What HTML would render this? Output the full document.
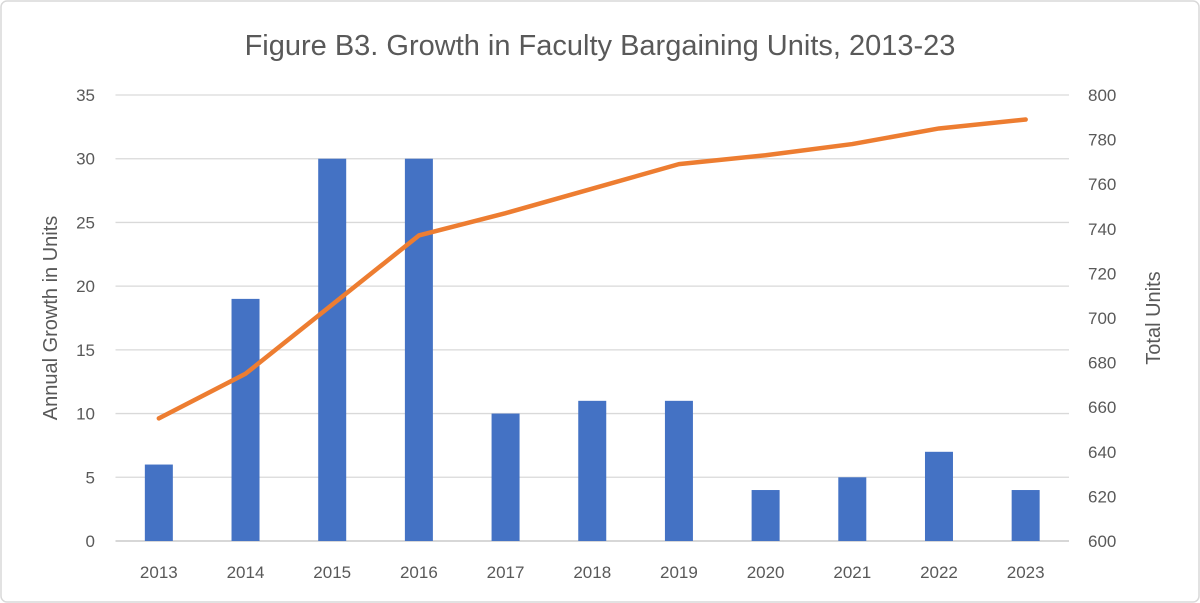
<!DOCTYPE html>
<html><head><meta charset="utf-8"><style>
body{margin:0;background:#fff;}
svg{display:block;font-family:"Liberation Sans",sans-serif;}
</style></head><body>
<svg id="chart" width="1200" height="603">
<rect x="1" y="1" width="1198" height="601" rx="6" fill="#fff" stroke="#d9d9d9" stroke-width="1.5"/>
<text x="600" y="55" text-anchor="middle" font-size="29" fill="#595959">Figure B3. Growth in Faculty Bargaining Units, 2013-23</text>
<g id="grid"></g><g id="bars"></g><g id="line"></g><g id="axes"></g>
<text transform="translate(57,318) rotate(-90)" text-anchor="middle" font-size="20" fill="#595959">Annual Growth in Units</text>
<text transform="translate(1160,318) rotate(-90)" text-anchor="middle" font-size="20" fill="#595959">Total Units</text>
</svg>
<script>
const categories=["2013","2014","2015","2016","2017","2018","2019","2020","2021","2022","2023"];
const growth=[6,19,30,30,10,11,11,4,5,7,4];
const totals=[655,675,706,737,747,758,769,773,778,785,789];
const leftTicks=[0,5,10,15,20,25,30,35];
const rightTicks=[600,620,640,660,680,700,720,740,760,780,800];
const NS="http://www.w3.org/2000/svg";
const X0=115.5,X1=1069,Y0=541,Y1=95;
const bw=(X1-X0)/categories.length;
const xc=i=>X0+bw*(i+0.5);
const yL=v=>Y0-(v/35)*(Y0-Y1);
const yR=v=>Y0-((v-600)/200)*(Y0-Y1);
function mk(t,a,p){const e=document.createElementNS(NS,t);for(const k in a)e.setAttribute(k,a[k]);p.appendChild(e);return e;}
const g=document.getElementById('grid'),b=document.getElementById('bars'),l=document.getElementById('line'),ax=document.getElementById('axes');
leftTicks.forEach(v=>{
 const ln=mk('line',{x1:X0,x2:X1,y1:yL(v),y2:yL(v),stroke:v===0?'#bfbfbf':'#d9d9d9','stroke-width':1.3},g);
 
 
 const t=mk('text',{x:95,y:yL(v)+6,'text-anchor':'end','font-size':17,fill:'#595959'},ax);t.textContent=v;
 
 
});
rightTicks.forEach(v=>{
 const t=mk('text',{x:1088,y:yR(v)+6,'font-size':17,fill:'#595959'},ax);t.textContent=v;
 
 
});
categories.forEach((c,i)=>{
 const r=mk('rect',{x:xc(i)-14,y:yL(growth[i]),width:28,height:Y0-yL(growth[i]),fill:'#4472c4'},b);
 
 
 const t=mk('text',{x:xc(i),y:578,'text-anchor':'middle','font-size':17,fill:'#595959'},ax);t.textContent=c;
 
 
});
const p=mk('polyline',{points:totals.map((v,i)=>xc(i)+','+yR(v)).join(' '),fill:'none',stroke:'#ed7d31','stroke-width':4.5,'stroke-linejoin':'round','stroke-linecap':'round'},l);


</script>
</body></html>
